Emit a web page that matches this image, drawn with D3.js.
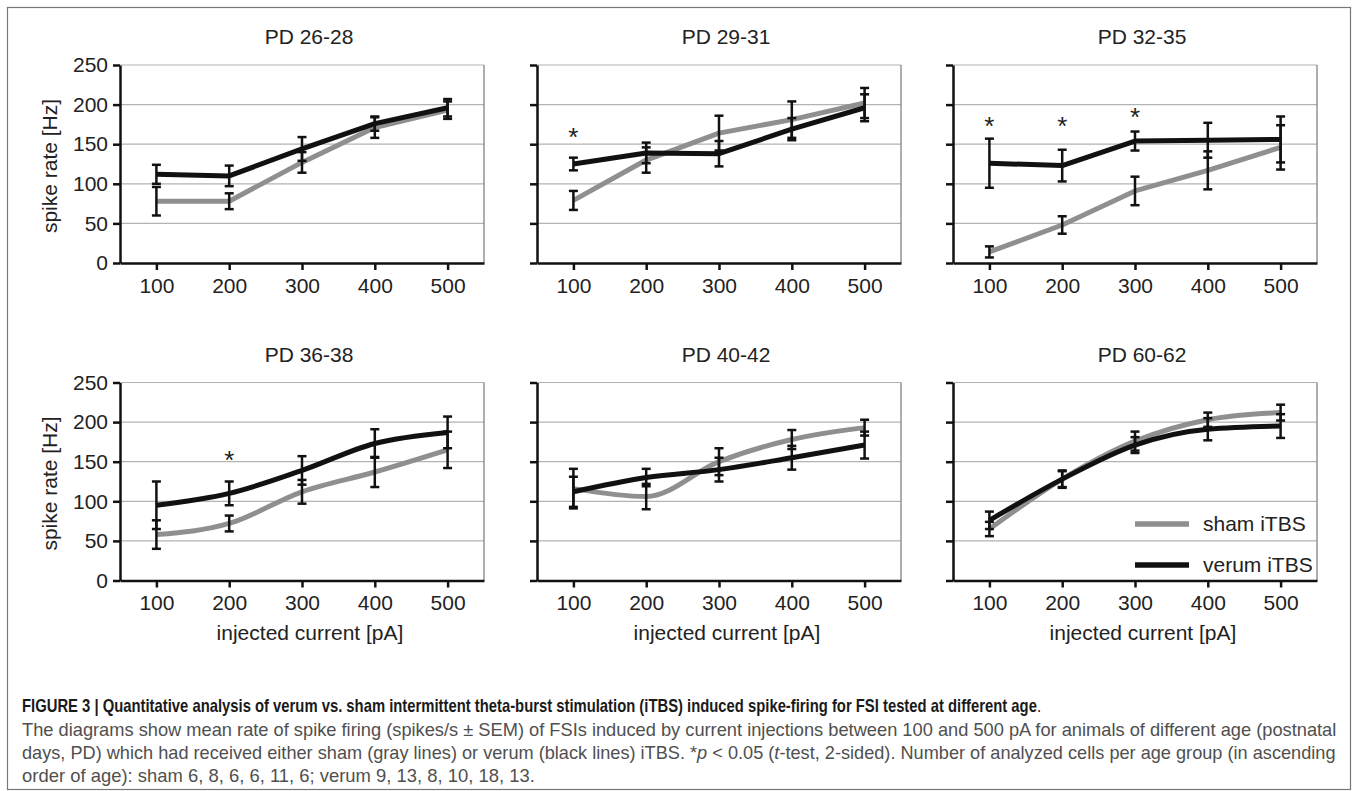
<!DOCTYPE html>
<html>
<head>
<meta charset="utf-8">
<script src="https://cdn.jsdelivr.net/npm/d3@7"></script>
<style>
  body { margin: 0; background: #fff; }
  text { font-family: "Liberation Sans", Arial, sans-serif; }
</style>
</head>
<body>
<script>
// values (spike rate in Hz, mean and SEM)
var panelTitles = ["PD 26-28", "PD 29-31", "PD 32-35", "PD 36-38", "PD 40-42", "PD 60-62"];
var currents = [100, 200, 300, 400, 500];
var yTicks = [0, 50, 100, 150, 200, 250];

var shamMean = [[78, 78, 127, 171, 193], [79, 130, 164, 181, 202], [14, 48, 91, 117, 146],
                [58, 72, 112, 137, 165], [116, 106, 150, 178, 193], [65, 128, 176, 203, 212]];
var shamSem = [[18, 10, 13, 13, 11], [12, 16, 22, 23, 19], [7, 11, 18, 24, 28],
               [18, 10, 15, 19, 23], [25, 16, 17, 12, 10], [9, 10, 12, 9, 10]];
var verumMean = [[112, 110, 144, 176, 196], [125, 139, 138, 169, 196], [126, 123, 154, 155, 156],
                 [95, 110, 139, 173, 187], [112, 130, 140, 155, 171], [76, 128, 171, 191, 195]];
var verumSem = [[12, 13, 15, 9, 11], [8, 13, 16, 14, 17], [31, 20, 12, 22, 29],
                [30, 15, 18, 18, 20], [19, 11, 15, 15, 17], [11, 11, 10, 14, 15]];

// significance stars: panel index, current, height (Hz)
var starPanel = [1, 2, 2, 2, 3];
var starCurrent = [100, 100, 200, 300, 200];
var starLevel = [164, 178, 178, 189, 157];

var seriesNames = ["sham iTBS", "verum iTBS"];
var seriesColors = ["#8f8f8f", "#111111"];

var W = 1356, H = 791;
var svg = d3.select("body").append("svg").attr("width", W).attr("height", H);

// outer frame of the figure
svg.append("rect")
   .attr("x", 7.5).attr("y", 7.5)
   .attr("width", 1343).attr("height", 782)
   .attr("fill", "none")
   .attr("stroke", "#777")
   .attr("stroke-width", 1.2);

var colLeft = [120, 537, 953],
    rowTop = [65, 382.5],
    pw = 364, ph = 198;

var x = d3.scalePoint().domain(currents).range([0, pw]).padding(0.5);
var y = d3.scaleLinear().domain([0, 250]).range([ph, 0]);

panelTitles.forEach(function(title, i) {
  var col = i % 3, row = Math.floor(i / 3);
  var g = svg.append("g")
             .attr("transform", "translate(" + colLeft[col] + "," + rowTop[row] + ")");

  // gridlines (top one doubles as the box border)
  g.selectAll(".grid")
   .data(yTicks.slice(1))
   .enter().append("line")
   .attr("x1", 0).attr("x2", pw)
   .attr("y1", function(d) { return y(d); })
   .attr("y2", function(d) { return y(d); })
   .attr("stroke", "#b3b3b3")
   .attr("stroke-width", 1.2);

  g.append("line")
   .attr("x1", pw).attr("x2", pw)
   .attr("y1", 0).attr("y2", ph)
   .attr("stroke", "#777")
   .attr("stroke-width", 1.2);

  // series lines, bottom row drawn smoothed like the original
  var line = d3.line()
               .x(function(d, k) { return x(currents[k]); })
               .y(function(d) { return y(d); })
               .curve(row == 1 ? d3.curveMonotoneX : d3.curveLinear);

  [shamMean[i], verumMean[i]].forEach(function(vals, s) {
    g.append("path")
     .datum(vals)
     .attr("d", line)
     .attr("fill", "none")
     .attr("stroke", seriesColors[s])
     .attr("stroke-width", 5)
     .attr("stroke-linejoin", "round");
  });

  // error bars (black for both groups)
  [[shamMean[i], shamSem[i]], [verumMean[i], verumSem[i]]].forEach(function(ms) {
    var bars = g.selectAll(null)
                .data(ms[0].map(function(m, k) { return {c: currents[k], m: m, s: ms[1][k]}; }))
                .enter().append("g")
                .attr("stroke", "#111")
                .attr("stroke-width", 2.5);
    bars.append("line")
        .attr("x1", function(d) { return x(d.c); })
        .attr("x2", function(d) { return x(d.c); })
        .attr("y1", function(d) { return y(d.m - d.s); })
        .attr("y2", function(d) { return y(d.m + d.s); });
    [-1, 1].forEach(function(sign) {
      bars.append("line")
          .attr("x1", function(d) { return x(d.c) - 4.5; })
          .attr("x2", function(d) { return x(d.c) + 4.5; })
          .attr("y1", function(d) { return y(d.m + sign * d.s); })
          .attr("y2", function(d) { return y(d.m + sign * d.s); });
    });
  });

  // axes
  var yAxis = g.append("g")
               .call(d3.axisLeft(y).tickValues(yTicks).tickSize(7).tickSizeOuter(0).tickPadding(5)
                       .tickFormat(col == 0 ? d3.format("d") : function() { return ""; }));
  var xAxis = g.append("g")
               .attr("transform", "translate(0," + ph + ")")
               .call(d3.axisBottom(x).tickSize(7).tickSizeOuter(0).tickPadding(8));
  [yAxis, xAxis].forEach(function(ax) {
    ax.selectAll("path, line").attr("stroke", "#111").attr("stroke-width", 2.5);
    ax.selectAll("text")
      .style("font-family", "'Liberation Sans', Arial, sans-serif")
      .style("font-size", "21px")
      .attr("fill", "#222");
  });

  // panel title
  g.append("text")
   .attr("x", pw / 2 + 7)
   .attr("y", -21)
   .attr("text-anchor", "middle")
   .style("font-size", "21px")
   .attr("fill", "#222")
   .text(title);

  if (row == 1) {
    g.append("text")
     .attr("x", pw / 2 + 8)
     .attr("y", ph + 59)
     .attr("text-anchor", "middle")
     .style("font-size", "21px")
     .attr("fill", "#222")
     .text("injected current [pA]");
  }
  if (col == 0) {
    g.append("text")
     .attr("transform", "translate(-63," + (ph / 2 + 2) + ") rotate(-90)")
     .attr("text-anchor", "middle")
     .style("font-size", "21px")
     .attr("fill", "#222")
     .text("spike rate [Hz]");
  }

  // stars
  starPanel.forEach(function(p, k) {
    if (p != i) return;
    g.append("text")
     .attr("x", x(starCurrent[k]))
     .attr("y", y(starLevel[k]) + 13)
     .attr("text-anchor", "middle")
     .style("font-size", "26px")
     .attr("fill", "#222")
     .text("*");
  });

  // legend sits inside the last panel
  if (i == 5) {
    seriesNames.forEach(function(name, s) {
      var ly = 141.5 + s * 41;
      g.append("line")
       .attr("x1", 182).attr("x2", 236)
       .attr("y1", ly).attr("y2", ly)
       .attr("stroke", seriesColors[s])
       .attr("stroke-width", 5.5);
      g.append("text")
       .attr("x", 250)
       .attr("y", ly + 6.5)
       .style("font-size", "21px")
       .attr("fill", "#222")
       .text(name);
    });
  }
});

// caption
var captionLines = [
  [["FIGURE 3 | Quantitative analysis of verum vs. sham intermittent theta-burst stimulation (iTBS) induced spike-firing for FSI tested at different age", "bold"], [".", "normal"]],
  [["The diagrams show mean rate of spike firing (spikes/s \u00B1 SEM) of FSIs induced by current injections between 100 and 500 pA for animals of different age (postnatal", "normal"]],
  [["days, PD) which had received either sham (gray lines) or verum (black lines) iTBS. *", "normal"], ["p", "italic"], [" < 0.05 (", "normal"], ["t", "italic"], ["-test, 2-sided). Number of analyzed cells per age group (in ascending", "normal"]],
  [["order of age): sham 6, 8, 6, 6, 11, 6; verum 9, 13, 8, 10, 18, 13.", "normal"]]
];
var captionY = [712, 736, 759, 782];
var captionEnd = [1042, 1337, 1336, 535];
var captionX = 22;

captionLines.forEach(function(parts, li) {
  var t = svg.append("text")
             .attr("x", 0).attr("y", 0)
             .style("font-family", "'Liberation Sans Narrow', 'Liberation Sans', Arial, sans-serif")
             .style("font-size", "17.5px")
             .attr("fill", li == 0 ? "#1a1a1a" : "#4f4f4f");
  parts.forEach(function(p) {
    t.append("tspan")
     .style("font-weight", p[1] == "bold" ? "bold" : "normal")
     .style("font-style", p[1] == "italic" ? "italic" : "normal")
     .text(p[0]);
  });
  var w = t.node().getComputedTextLength();
  var sx = (captionEnd[li] - captionX) / w;
  t.attr("transform", "translate(" + captionX + "," + captionY[li] + ") scale(" + sx + ",1)");
});
</script>
</body>
</html>
